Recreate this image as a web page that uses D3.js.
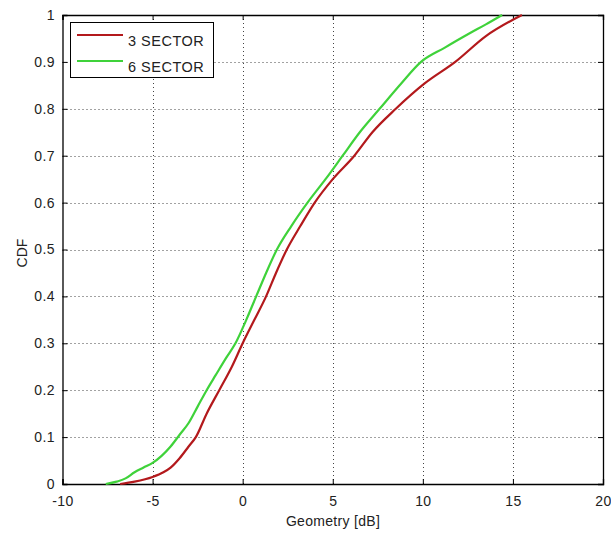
<!DOCTYPE html>
<html><head><meta charset="utf-8">
<script src="https://cdn.jsdelivr.net/npm/d3@7"></script>
<style>body{margin:0;background:#fff}text{font-family:"Liberation Sans",Arial,sans-serif}</style>
</head><body>
<svg id="c" width="611" height="534"></svg>
<script>
const xTicks = [-10,-5,0,5,10,15,20];
const yTicks = [0,0.1,0.2,0.3,0.4,0.5,0.6,0.7,0.8,0.9,1];
const yTickLabels = ["0","0.1","0.2","0.3","0.4","0.5","0.6","0.7","0.8","0.9","1"];
const seriesNames = ["3 SECTOR","6 SECTOR"];
const seriesColors = ["#b3191c","#3fd23a"];
const sector3 = [[-6.8,0],[-6.0,0.005],[-5.0,0.015],[-4.4,0.025],[-4.0,0.035],[-3.5,0.055],[-3.0,0.08],[-2.6,0.10],[-2.0,0.15],[-1.3,0.20],[-0.6,0.25],[0.0,0.30],[0.65,0.35],[1.3,0.40],[1.85,0.45],[2.45,0.50],[3.2,0.55],[4.0,0.60],[5.0,0.65],[6.2,0.70],[7.2,0.75],[8.5,0.80],[10.1,0.854],[11.8,0.90],[13.5,0.955],[15.5,1.0]];
const sector6 = [[-7.6,0],[-7.0,0.005],[-6.5,0.012],[-6.0,0.025],[-5.5,0.035],[-5.0,0.045],[-4.5,0.06],[-4.0,0.08],[-3.5,0.105],[-3.0,0.13],[-2.5,0.165],[-2.0,0.20],[-1.5,0.232],[-0.9,0.27],[-0.4,0.30],[0.2,0.35],[0.75,0.40],[1.3,0.45],[1.9,0.50],[2.7,0.55],[3.6,0.60],[4.6,0.65],[5.55,0.70],[6.5,0.75],[7.6,0.80],[8.8,0.854],[9.9,0.90],[11.2,0.93],[12.6,0.961],[13.5,0.98],[14.4,1.0]];
const series = [sector3, sector6];

const L=62.5, R=603, T=15, B=484;
const svg = d3.select("#c");
const x = d3.scaleLinear().domain([-10,20]).range([L,R]);
const y = d3.scaleLinear().domain([0,1]).range([B,T]);

// grid
const g = svg.append("g");
g.selectAll("line.gx").data(xTicks.slice(1,-1)).join("line")
 .attr("x1",d=>Math.round(x(d))+0.5).attr("x2",d=>Math.round(x(d))+0.5).attr("y1",T).attr("y2",B)
 .attr("stroke","#444").attr("stroke-dasharray","1,3");
g.selectAll("line.gy").data(yTicks.slice(1,-1)).join("line")
 .attr("y1",d=>Math.round(y(d))+0.5).attr("y2",d=>Math.round(y(d))+0.5).attr("x1",L).attr("x2",R)
 .attr("stroke","#444").attr("stroke-dasharray","1,3");

// axes
const xa = svg.append("g").attr("transform",`translate(0,${B})`)
 .call(d3.axisBottom(x).tickValues(xTicks).tickSize(-5).tickPadding(12).tickFormat(d=>String(d)));
const xt = svg.append("g").attr("transform",`translate(0,${T})`)
 .call(d3.axisTop(x).tickValues(xTicks).tickSize(-5).tickFormat(""));
const ya = svg.append("g").attr("transform",`translate(${L},0)`)
 .call(d3.axisLeft(y).tickValues(yTicks).tickSize(-5).tickPadding(7.5).tickFormat((d,i)=>yTickLabels[i]));
const yr = svg.append("g").attr("transform",`translate(${R},0)`)
 .call(d3.axisRight(y).tickValues(yTicks).tickSize(-5).tickFormat(""));
[xa,xt,ya,yr].forEach(a=>{a.select(".domain").attr("stroke","#000").attr("stroke-width",1.3);
 a.selectAll(".tick line").attr("stroke","#000");
 a.selectAll("text").attr("font-size",14).attr("letter-spacing","0.4px").attr("fill","#222").attr("font-family","Liberation Sans, Arial, sans-serif");});

// lines
const line = d3.line().x(d=>x(d[0])).y(d=>y(d[1])).curve(d3.curveMonotoneX);
series.forEach((s,i)=>{
 svg.append("path").datum(s).attr("d",line).attr("fill","none")
  .attr("stroke",seriesColors[i]).attr("stroke-width",2.2).attr("stroke-linejoin","round");
});

// labels
svg.append("text").attr("x",333).attr("y",526).attr("text-anchor","middle").attr("font-size",14).attr("letter-spacing","0.3px").attr("fill","#222").text("Geometry [dB]");
svg.append("text").attr("transform","translate(26.5,253) rotate(-90)").attr("text-anchor","middle").attr("font-size",14).attr("fill","#222").text("CDF");

// legend
const lg = svg.append("g");
lg.append("rect").attr("x",70.5).attr("y",22.5).attr("width",143).attr("height",55).attr("fill","#fff").attr("stroke","#000").attr("stroke-width",1);
seriesNames.forEach((n,i)=>{
 const yy = 35 + i*26;
 lg.append("line").attr("x1",77).attr("x2",123).attr("y1",yy).attr("y2",yy).attr("stroke",seriesColors[i]).attr("stroke-width",2.2);
 lg.append("text").attr("x",128).attr("y",yy+10.5).attr("font-size",14.5).attr("letter-spacing","0.5px").attr("fill","#222").text(n);
});
</script>
</body></html>
